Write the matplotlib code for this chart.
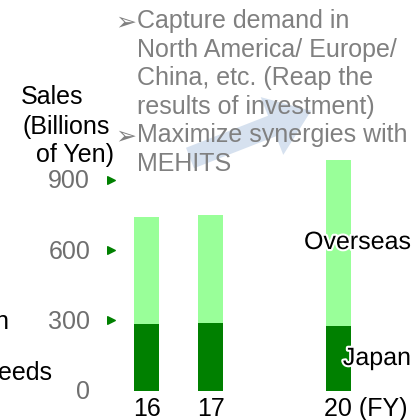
import matplotlib
matplotlib.use("Agg")
import matplotlib.pyplot as plt
import matplotlib.patheffects as pe
from matplotlib.patches import FancyArrow

# data (billions of yen)
years = ["16", "17", "20 (FY)"]
xpos = [0, 1, 3]
japan = [286, 290, 277]
overseas = [456, 461, 708]
yticks = [0, 300, 600, 900]

bullets = ["Capture demand in", "North America/ Europe/", "China, etc. (Reap the",
           "results of investment)", "Maximize synergies with", "MEHITS"]
bullet_lines = [0, 4]

W, H = 419, 420
fig = plt.figure(figsize=(W / 100, H / 100), dpi=100)
plt.rcParams['font.family'] = ['Liberation Sans', 'DejaVu Sans']
FS = 18

# bar axes over the whole figure, scaled so 0 -> 391px, 900 -> 180px from top
k = (391 - 180) / 900.0
ax = fig.add_axes([0, 0, 1, 1])
ax.set_xlim(-146.5 / 64, (W - 146.5) / 64)
ax.set_ylim(-(H - 391) / k, 391 / k)
ax.axis("off")

ax.bar(xpos, japan, width=0.39, color="#008000", zorder=2)
ax.bar(xpos, overseas, bottom=japan, width=0.39, color="#99ff99", zorder=2)

# y tick labels with little green arrow marks
for v in yticks:
    ax.text(-0.88, v - 6, str(v), ha="right", va="center", fontsize=FS, color="#6f6f6f")
    if v > 0:
        ax.scatter(-0.56, v + 2, marker=">", s=30, color="#008000", zorder=3)

for x, lab in zip(xpos, years):
    if lab.startswith("20"):
        ax.text(x - 0.23, -78, lab, ha="left", va="center", fontsize=FS, color="black")
    else:
        ax.text(x, -78, lab, ha="center", va="center", fontsize=FS, color="black")

# overlay in pixel coordinates for the annotation bits
ov = fig.add_axes([0, 0, 1, 1], facecolor="none")
ov.set_xlim(0, W)
ov.set_ylim(H, 0)
ov.axis("off")

ov.add_patch(FancyArrow(190, 158, 82, -32, width=22, head_width=62, head_length=42,
                        length_includes_head=False, color="#d6e1ef", lw=0, zorder=1))

for i, line in enumerate(bullets):
    y = 21 + i * 28.6
    ov.text(137, y, line, ha="left", va="center", fontsize=FS, color="#808080", zorder=4)
    if i in bullet_lines:
        ov.text(115, y + 1, "\u27a2", ha="left", va="center", fontsize=FS,
                color="#808080", family=["DejaVu Sans"], zorder=4)

ov.text(52, 97, "Sales", ha="center", va="center", fontsize=FS, color="black")
ov.text(66, 127, "(Billions", ha="center", va="center", fontsize=FS, color="black")
ov.text(75, 155, "of Yen)", ha="center", va="center", fontsize=FS, color="black")

halo = [pe.withStroke(linewidth=3, foreground="white")]
ov.text(411, 242, "Overseas", ha="right", va="center", fontsize=FS, color="black",
        path_effects=halo, zorder=5)
ov.text(411, 358, "Japan", ha="right", va="center", fontsize=FS, color="black",
        path_effects=halo, zorder=5)

# text cut off at the left edge of the slide
ov.text(8, 322, "n", ha="right", va="center", fontsize=FS, color="black")
ov.text(52, 373, "eeds", ha="right", va="center", fontsize=FS, color="black")

fig.savefig("out.png", dpi=100)
